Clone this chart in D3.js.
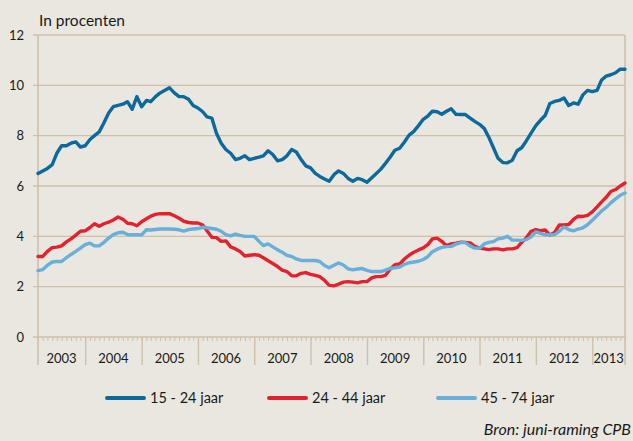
<!DOCTYPE html>
<html>
<head>
<meta charset="utf-8">
<script src="https://cdn.jsdelivr.net/npm/d3@7"></script>
<style>
  html, body { margin: 0; padding: 0; background: #e9e7e0; }
  svg { display: block; }
  text { font-family: Lato, "Open Sans", sans-serif; fill: #1a1a1a; }
</style>
</head>
<body>
<svg id="chart" width="633" height="441"></svg>
<script>
// ---- Data (monthly, March 2003 – August 2013), unemployment in % ----
const startYear = 2003, startMonth = 2; // March 2003 (0-based month)
const seriesNames = ["15 - 24 jaar", "24 - 44 jaar", "45 - 74 jaar"];
const seriesColors = ["#0b6a9b", "#e2222f", "#68afd9"];

const youth = [
  6.5, 6.6, 6.7, 6.85, 7.3, 7.6, 7.6, 7.7, 7.75, 7.55,
  7.6, 7.85, 8.0, 8.15, 8.5, 8.9, 9.15, 9.2, 9.25, 9.35,
  9.05, 9.55, 9.15, 9.4, 9.35, 9.55, 9.7, 9.8, 9.9, 9.7,
  9.55, 9.55, 9.45, 9.2, 9.1, 8.95, 8.75, 8.7, 8.1, 7.7,
  7.45, 7.3, 7.05, 7.1, 7.2, 7.05, 7.1, 7.15, 7.2, 7.4,
  7.25, 7.0, 7.05, 7.2, 7.45, 7.35, 7.05, 6.8, 6.72, 6.5,
  6.38, 6.28, 6.19, 6.45, 6.6, 6.5, 6.3, 6.19, 6.3, 6.25,
  6.15, 6.33, 6.49, 6.67, 6.9, 7.15, 7.42, 7.5, 7.75, 8.02,
  8.17, 8.4, 8.65, 8.79, 8.97, 8.95, 8.85, 8.97, 9.07, 8.85,
  8.84, 8.84, 8.7, 8.57, 8.45, 8.28, 7.95, 7.52, 7.1, 6.93,
  6.92, 7.02, 7.4, 7.52, 7.8, 8.1, 8.4, 8.62, 8.8, 9.28,
  9.36, 9.4, 9.5, 9.2, 9.3, 9.25, 9.62, 9.8, 9.75, 9.8,
  10.2, 10.37, 10.42, 10.5, 10.64, 10.64
];
const middle = [
  3.2, 3.2, 3.4, 3.55, 3.57, 3.62, 3.78, 3.9, 4.05, 4.2,
  4.22, 4.35, 4.5, 4.4, 4.5, 4.56, 4.65, 4.77, 4.68, 4.52,
  4.5, 4.42, 4.58, 4.7, 4.8, 4.87, 4.9, 4.9, 4.9, 4.82,
  4.72, 4.6, 4.55, 4.53, 4.53, 4.45, 4.22, 3.96, 3.95, 3.8,
  3.82, 3.58, 3.5, 3.4, 3.22, 3.25, 3.27, 3.25, 3.15, 3.03,
  2.92, 2.8, 2.66, 2.6, 2.43, 2.43, 2.53, 2.56, 2.49, 2.45,
  2.4, 2.25, 2.05, 2.03, 2.1, 2.18, 2.2, 2.18, 2.15, 2.2,
  2.2, 2.35, 2.4, 2.4, 2.45, 2.7, 2.87, 2.9, 3.1, 3.25,
  3.37, 3.46, 3.54, 3.68, 3.9, 3.93, 3.8, 3.63, 3.7, 3.73,
  3.77, 3.76, 3.74, 3.6, 3.53, 3.5, 3.47, 3.5, 3.5, 3.46,
  3.5, 3.5, 3.55, 3.76, 3.95, 4.2, 4.27, 4.22, 4.25, 4.05,
  4.15, 4.45, 4.45, 4.47, 4.67, 4.8, 4.79, 4.83, 4.97, 5.17,
  5.36, 5.55, 5.78, 5.86, 6.0, 6.12
];
const older = [
  2.64, 2.68, 2.85, 2.98, 3.0, 3.0, 3.15, 3.28, 3.4, 3.53,
  3.67, 3.73, 3.62, 3.62, 3.76, 3.93, 4.07, 4.14, 4.16, 4.07,
  4.06, 4.06, 4.06, 4.26, 4.25, 4.27, 4.29, 4.29, 4.29, 4.28,
  4.26, 4.21, 4.27, 4.29, 4.31, 4.36, 4.34, 4.31, 4.28, 4.2,
  4.07, 4.02, 4.09, 4.04, 4.0, 4.0, 4.0, 3.8, 3.63, 3.7,
  3.58, 3.47, 3.37, 3.24, 3.2, 3.1, 3.04, 3.04, 3.04, 3.04,
  3.0, 2.84, 2.75, 2.85, 2.94, 2.86, 2.71, 2.67, 2.7, 2.72,
  2.65, 2.6, 2.6, 2.6, 2.66, 2.73, 2.75, 2.78, 2.89, 2.95,
  2.98, 3.01, 3.08, 3.2, 3.39, 3.49, 3.56, 3.59, 3.6, 3.69,
  3.75, 3.75, 3.62, 3.53, 3.53, 3.7, 3.76, 3.79, 3.9, 3.93,
  4.0, 3.85, 3.85, 3.84, 3.87, 3.98, 4.18, 4.12, 4.06, 4.06,
  4.07, 4.2, 4.37, 4.27, 4.22, 4.29, 4.34, 4.46, 4.64, 4.83,
  5.0, 5.15, 5.33, 5.49, 5.63, 5.72
];
const yTicks = [0, 2, 4, 6, 8, 10, 12];
const yearLabels = ["2003","2004","2005","2006","2007","2008","2009","2010","2011","2012","2013"];
const titleText = "In procenten";
const sourceText = "Bron: juni-raming CPB";

(function () {
  // ---- Layout ----
  const plotLeft = 38, plotRight = 625, plotTop = 35, plotBottom = 337;
  const gridColor = "#cdc1aa";
  const svg = d3.select("#chart");

  const monthDate = i => new Date(startYear, startMonth + i, 1);
  const nMonths = youth.length;
  const x = d3.scaleTime()
    .domain([monthDate(0), monthDate(nMonths - 1)])
    .range([plotLeft, plotRight]);
  const y = d3.scaleLinear().domain([0, 12]).range([plotBottom, plotTop]);

  svg.append("rect").attr("width", 633).attr("height", 441).attr("fill", "#e9e7e0");

  // horizontal gridlines
  svg.append("g").selectAll("line").data(yTicks).join("line")
    .attr("x1", plotLeft - 5).attr("x2", plotRight)
    .attr("y1", d => y(d)).attr("y2", d => y(d))
    .attr("stroke", gridColor).attr("stroke-width", 1.4);

  // y labels
  svg.append("g").selectAll("text").data(yTicks).join("text")
    .attr("x", 24).attr("y", d => y(d)).attr("dy", "0.35em")
    .attr("text-anchor", "end").attr("font-size", 13)
    .text(d => d);

  // x axis: monthly minor ticks + year ticks
  const months = d3.range(nMonths).map(monthDate);
  const gMinor = svg.append("g").attr("transform", `translate(0,${plotBottom})`)
    .call(d3.axisBottom(x).tickValues(months).tickSize(4).tickFormat(""));
  gMinor.select(".domain").remove();
  gMinor.selectAll("line").attr("stroke", gridColor).attr("stroke-width", 1);

  const yearStarts = yearLabels.slice(1).map(yy => new Date(+yy, 0, 1));
  const gYears = svg.append("g").attr("transform", `translate(0,${plotBottom})`)
    .call(d3.axisBottom(x).tickValues(yearStarts).tickSize(28).tickFormat(""));
  gYears.select(".domain").remove();
  gYears.selectAll("line").attr("stroke", gridColor).attr("stroke-width", 1.4);

  // year labels centered within each year segment
  const [domainStart, domainEnd] = x.domain();
  svg.append("g").selectAll("text").data(yearLabels).join("text")
    .attr("x", d => {
      const a = new Date(Math.max(+new Date(+d, 0, 1), +domainStart));
      const b = new Date(Math.min(+new Date(+d + 1, 0, 1), +domainEnd));
      return (x(a) + x(b)) / 2;
    })
    .attr("y", 363)
    .attr("text-anchor", "middle").attr("font-size", 13)
    .text(d => d);

  // left & right frame lines
  [plotLeft, plotRight].forEach(px => {
    svg.append("line").attr("x1", px).attr("x2", px).attr("y1", plotTop).attr("y2", plotBottom + 28)
      .attr("stroke", gridColor).attr("stroke-width", 1.6);
  });

  // lines
  const line = d3.line().x((d, i) => x(monthDate(i))).y(d => y(d));
  svg.append("g").selectAll("path").data([youth, middle, older]).join("path")
    .attr("d", d => line(d))
    .attr("fill", "none")
    .attr("stroke", (d, i) => seriesColors[i])
    .attr("stroke-width", 3.4)
    .attr("stroke-linejoin", "round")
    .attr("stroke-linecap", "round");

  // title
  svg.append("text").attr("x", 39).attr("y", 26).attr("font-size", 15.5).text(titleText);

  // legend
  const legendX = [107, 269, 438];
  const lg = svg.append("g").selectAll("g").data(seriesNames).join("g")
    .attr("transform", (d, i) => `translate(${legendX[i]},398)`);
  lg.append("line").attr("x1", 0).attr("x2", 37).attr("y1", 0).attr("y2", 0)
    .attr("stroke", (d, i) => seriesColors[i]).attr("stroke-width", 4).attr("stroke-linecap", "round");
  lg.append("text").attr("x", 43).attr("y", 0).attr("dy", "0.35em")
    .attr("font-size", 14.5).text(d => d);

  // source
  svg.append("text").attr("x", 631).attr("y", 435).attr("text-anchor", "end")
    .attr("font-size", 16).attr("font-style", "italic").attr("fill", "#333").text(sourceText);
})();
</script>
</body>
</html>
